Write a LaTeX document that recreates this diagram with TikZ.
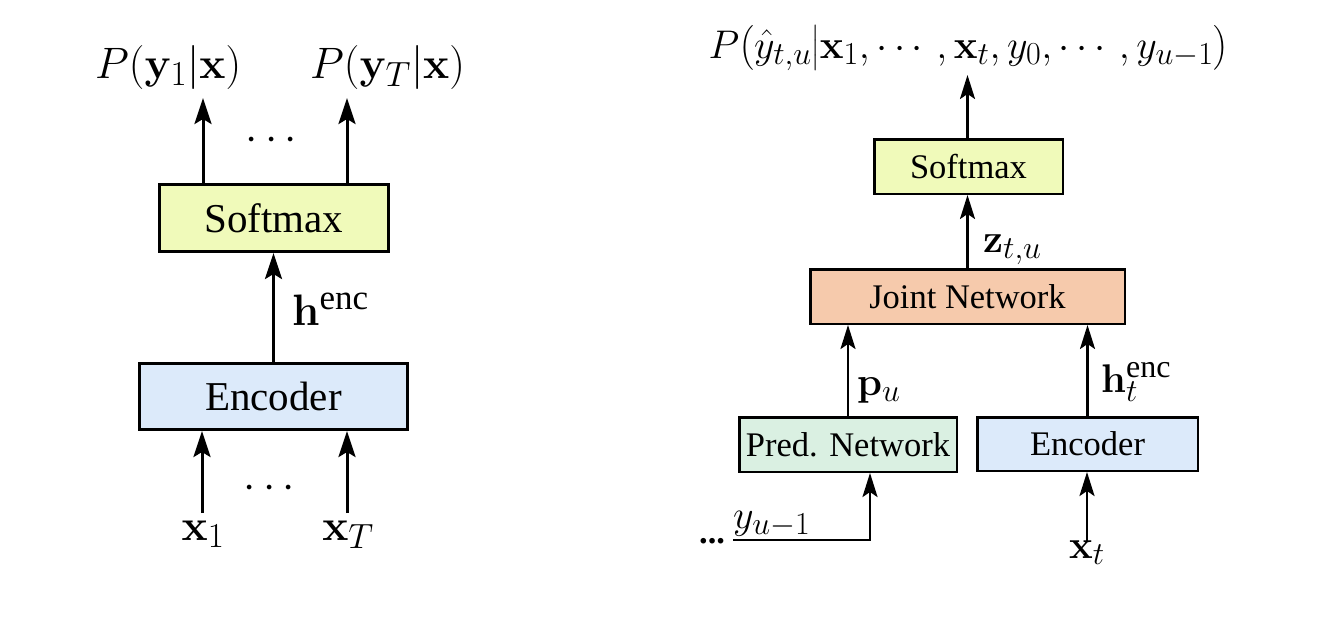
\RequirePackage{fix-cm}
\documentclass[tikz,border=0pt]{standalone}
\usepackage{amsmath}
\usepackage[no-math]{fontspec}
\setmainfont{Liberation Serif}
\newfontfamily\timesf{Liberation Serif}
\usetikzlibrary{arrows.meta}
\DeclareMathSizes{44}{44}{35}{28}
\DeclareMathSizes{40}{40}{32}{25}
\definecolor{smx}{RGB}{240,250,186}
\definecolor{encc}{RGB}{220,234,250}
\definecolor{jointc}{RGB}{246,202,172}
\definecolor{predc}{RGB}{218,240,226}
\newcommand{\fsL}{\fontsize{41}{48}\selectfont}
\newcommand{\fmL}{\fontsize{44}{50}\selectfont}
\newcommand{\fsR}{\fontsize{34.5}{40}\selectfont}
\newcommand{\fmR}{\fontsize{40}{46}\selectfont}
\newcommand{\encsup}{\text{\timesf enc}}
\tikzset{
  boxL/.style={draw=black, line width=3pt, inner sep=0pt, font=\fsL},
  boxR/.style={draw=black, line width=2.5pt, inner sep=0pt, font=\fsR},
  arrL/.style={line width=3pt, -{Stealth[length=26pt,width=17pt,inset=5pt]}},
  arrR/.style={line width=2.5pt, -{Stealth[length=24pt,width=15pt,inset=5pt]}},
  lblL/.style={inner sep=0pt, font=\fmL},
  lblR/.style={inner sep=0pt, font=\fmR},
}
\begin{document}
\begin{tikzpicture}[x=1pt,y=-1pt]
\useasboundingbox (0,0) rectangle (1320,616);
% ---------------- left ----------------
\node[boxL, fill=smx, minimum width=229pt, minimum height=67pt] (smL) at (274,218) {Softmax};
\node[boxL, fill=encc, minimum width=268pt, minimum height=66pt] (encL) at (273.5,396.5) {Encoder};
\node[lblL, anchor=base west] (p1) at (95,78) {$P(\mathbf{y}_1|\mathbf{x})$};
\node[lblL, anchor=base west] (pT) at (310,78) {$P(\mathbf{y}_T|\mathbf{x})$};
\coordinate (t1) at (203,98);
\coordinate (tT) at (347,98);
\draw[arrL] (smL.north -| t1) -- (t1);
\draw[arrL] (smL.north -| tT) -- (tT);
\node[lblL, anchor=base] (dtop) at (275,150) {$\cdots$};
\draw[arrL] (encL.north) -- (encL.north |- smL.south);
\node[lblL, anchor=base west] (hL) at (292,325) {$\mathbf{h}^{\encsup}$};
\node[lblL, anchor=base] (x1) at (203,540) {$\mathbf{x}_1$};
\node[lblL, anchor=base] (xT) at (348,540) {$\mathbf{x}_T$};
\coordinate (b1) at (202,513);
\coordinate (bT) at (347,513);
\draw[arrL] (b1) -- (b1 |- encL.south);
\draw[arrL] (bT) -- (bT |- encL.south);
\node[lblL, anchor=base] (dbot) at (273,498) {$\cdots$};
% ---------------- right ----------------
\node[boxR, fill=smx, minimum width=188.5pt, minimum height=54.5pt] (smR) at (968.5,166.5) {Softmax};
\node[boxR, fill=jointc, minimum width=314.5pt, minimum height=54.5pt] (jnR) at (967.5,296.5) {Joint Network};
\node[boxR, fill=predc, minimum width=217.5pt, minimum height=54.5pt] (prR) at (848,444.5) {Pred. Network};
\node[boxR, fill=encc, minimum width=220.5pt, minimum height=53.5pt] (enR) at (1087.5,444) {Encoder};
\node[lblR, anchor=base] (pR) at (968.5,58) {$P\bigl(\hat{y}_{t,u}\big|\mathbf{x}_1,\cdots,\mathbf{x}_t,y_0,\cdots,y_{u-1}\bigr)$};
\coordinate (tR) at (967.5,75);
\draw[arrR] (smR.north -| tR) -- (tR);
\draw[arrR] (jnR.north -| tR) -- (smR.south -| tR);
\node[lblR, anchor=base west] (zR) at (983,252) {$\mathbf{z}_{t,u}$};
\draw[arrR] (prR.north) -- (prR.north |- jnR.south);
\draw[arrR] (enR.north) -- (enR.north |- jnR.south);
\node[lblR, anchor=base west] (puR) at (857,395) {$\mathbf{p}_u$};
\node[lblR, anchor=base west] (htR) at (1101,392) {$\mathbf{h}_t^{\encsup}$};
\node[inner sep=0pt, font=\fsR, anchor=base west] (dotsR) at (699,543) {\textbf{...}};
\coordinate (ys) at (733,540);
\coordinate (yc) at (870,540);
\draw[arrR] (ys) -- (yc) -- (yc |- prR.south);
\node[lblR, anchor=base west] (yR) at (733,528) {$y_{u-1}$};
\coordinate (xs) at (1087,542);
\draw[arrR] (xs) -- (xs |- enR.south);
\node[lblR, anchor=base] (xtR) at (1087,558) {$\mathbf{x}_t$};
\end{tikzpicture}
\end{document}
